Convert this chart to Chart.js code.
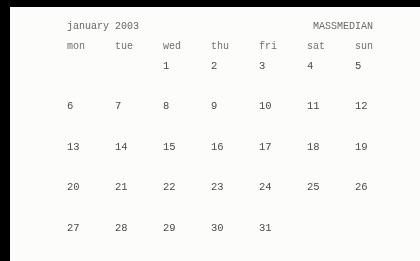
<!DOCTYPE html>
<html>
<head>
<meta charset="utf-8">
<script src="https://cdn.jsdelivr.net/npm/chart.js@4.4.1/dist/chart.umd.min.js"></script>
<style>
  html, body { margin: 0; padding: 0; background: #000; }
  #paper { position: absolute; left: 10px; top: 7px; width: 410px; height: 254px; background: #fcfcfa; }
  #cal { position: absolute; left: 0; top: 0; }
</style>
</head>
<body>
<div id="paper"></div>
<canvas id="cal" width="420" height="261"></canvas>
<script>
// dados do calendario
const days = ['mon', 'tue', 'wed', 'thu', 'fri', 'sat', 'sun'];
const week1 = [null, null, 1, 2, 3, 4, 5];
const week2 = [6, 7, 8, 9, 10, 11, 12];
const week3 = [13, 14, 15, 16, 17, 18, 19];
const week4 = [20, 21, 22, 23, 24, 25, 26];
const week5 = [27, 28, 29, 30, 31, null, null];
const weeks = [week1, week2, week3, week4, week5];
const monthTitle = 'january 2003';
const brand = 'MASSMEDIAN';

const FONT = '"Liberation Mono", "DejaVu Sans Mono", monospace';

// monta os pontos: x = dia da semana, y = numero da semana
const cells = [];
weeks.forEach((week, w) => {
  week.forEach((v, i) => {
    if (v === null) return;
    cells.push({ x: days[i], y: w + 1, v: v });
  });
});

// escreve o numero do dia em cada ponto
const dayNumbersPlugin = {
  id: 'dayNumbers',
  afterDatasetsDraw(chart) {
    const { ctx } = chart;
    const meta = chart.getDatasetMeta(0);
    const data = chart.data.datasets[0].data;
    ctx.save();
    ctx.font = '10.5px ' + FONT;
    ctx.fillStyle = '#4a4a4a';
    ctx.textAlign = 'left';
    ctx.textBaseline = 'middle';
    meta.data.forEach((pt, i) => {
      ctx.fillText(String(data[i].v), pt.x, pt.y);
    });
    ctx.restore();
  }
};

// cabecalho: mes a esquerda, MASSMEDIAN a direita (fim alinhado com "sun")
const headerPlugin = {
  id: 'header',
  afterDraw(chart) {
    const { ctx, chartArea } = chart;
    ctx.save();
    ctx.font = '10px ' + FONT;
    ctx.textBaseline = 'middle';
    ctx.fillStyle = '#666';
    ctx.textAlign = 'left';
    ctx.fillText(monthTitle, chartArea.left, 26);
    const sunW = ctx.measureText(days[days.length - 1]).width;
    ctx.fillStyle = '#6a6a6a';
    ctx.textAlign = 'right';
    ctx.fillText(brand, chartArea.right + sunW, 26);
    ctx.restore();
  }
};

new Chart(document.getElementById('cal'), {
  type: 'line',
  data: {
    labels: days,
    datasets: [{
      data: cells,
      showLine: false,
      pointRadius: 0,
      pointHoverRadius: 0
    }]
  },
  options: {
    responsive: false,
    animation: false,
    devicePixelRatio: 1,
    layout: { padding: { left: 67, right: 65, top: 26, bottom: 33 } },
    plugins: {
      legend: { display: false },
      tooltip: { enabled: false },
      title: { display: false }
    },
    scales: {
      x: {
        type: 'category',
        position: 'top',
        offset: false,
        grid: { display: false, drawTicks: false },
        border: { display: false },
        ticks: {
          align: 'start',
          padding: 14,
          color: '#707070',
          autoSkip: false,
          maxRotation: 0,
          font: { family: FONT, size: 10 }
        }
      },
      y: {
        type: 'linear',
        display: false,
        reverse: true,
        min: 1,
        max: 5
      }
    }
  },
  plugins: [dayNumbersPlugin, headerPlugin]
});
</script>
</body>
</html>
